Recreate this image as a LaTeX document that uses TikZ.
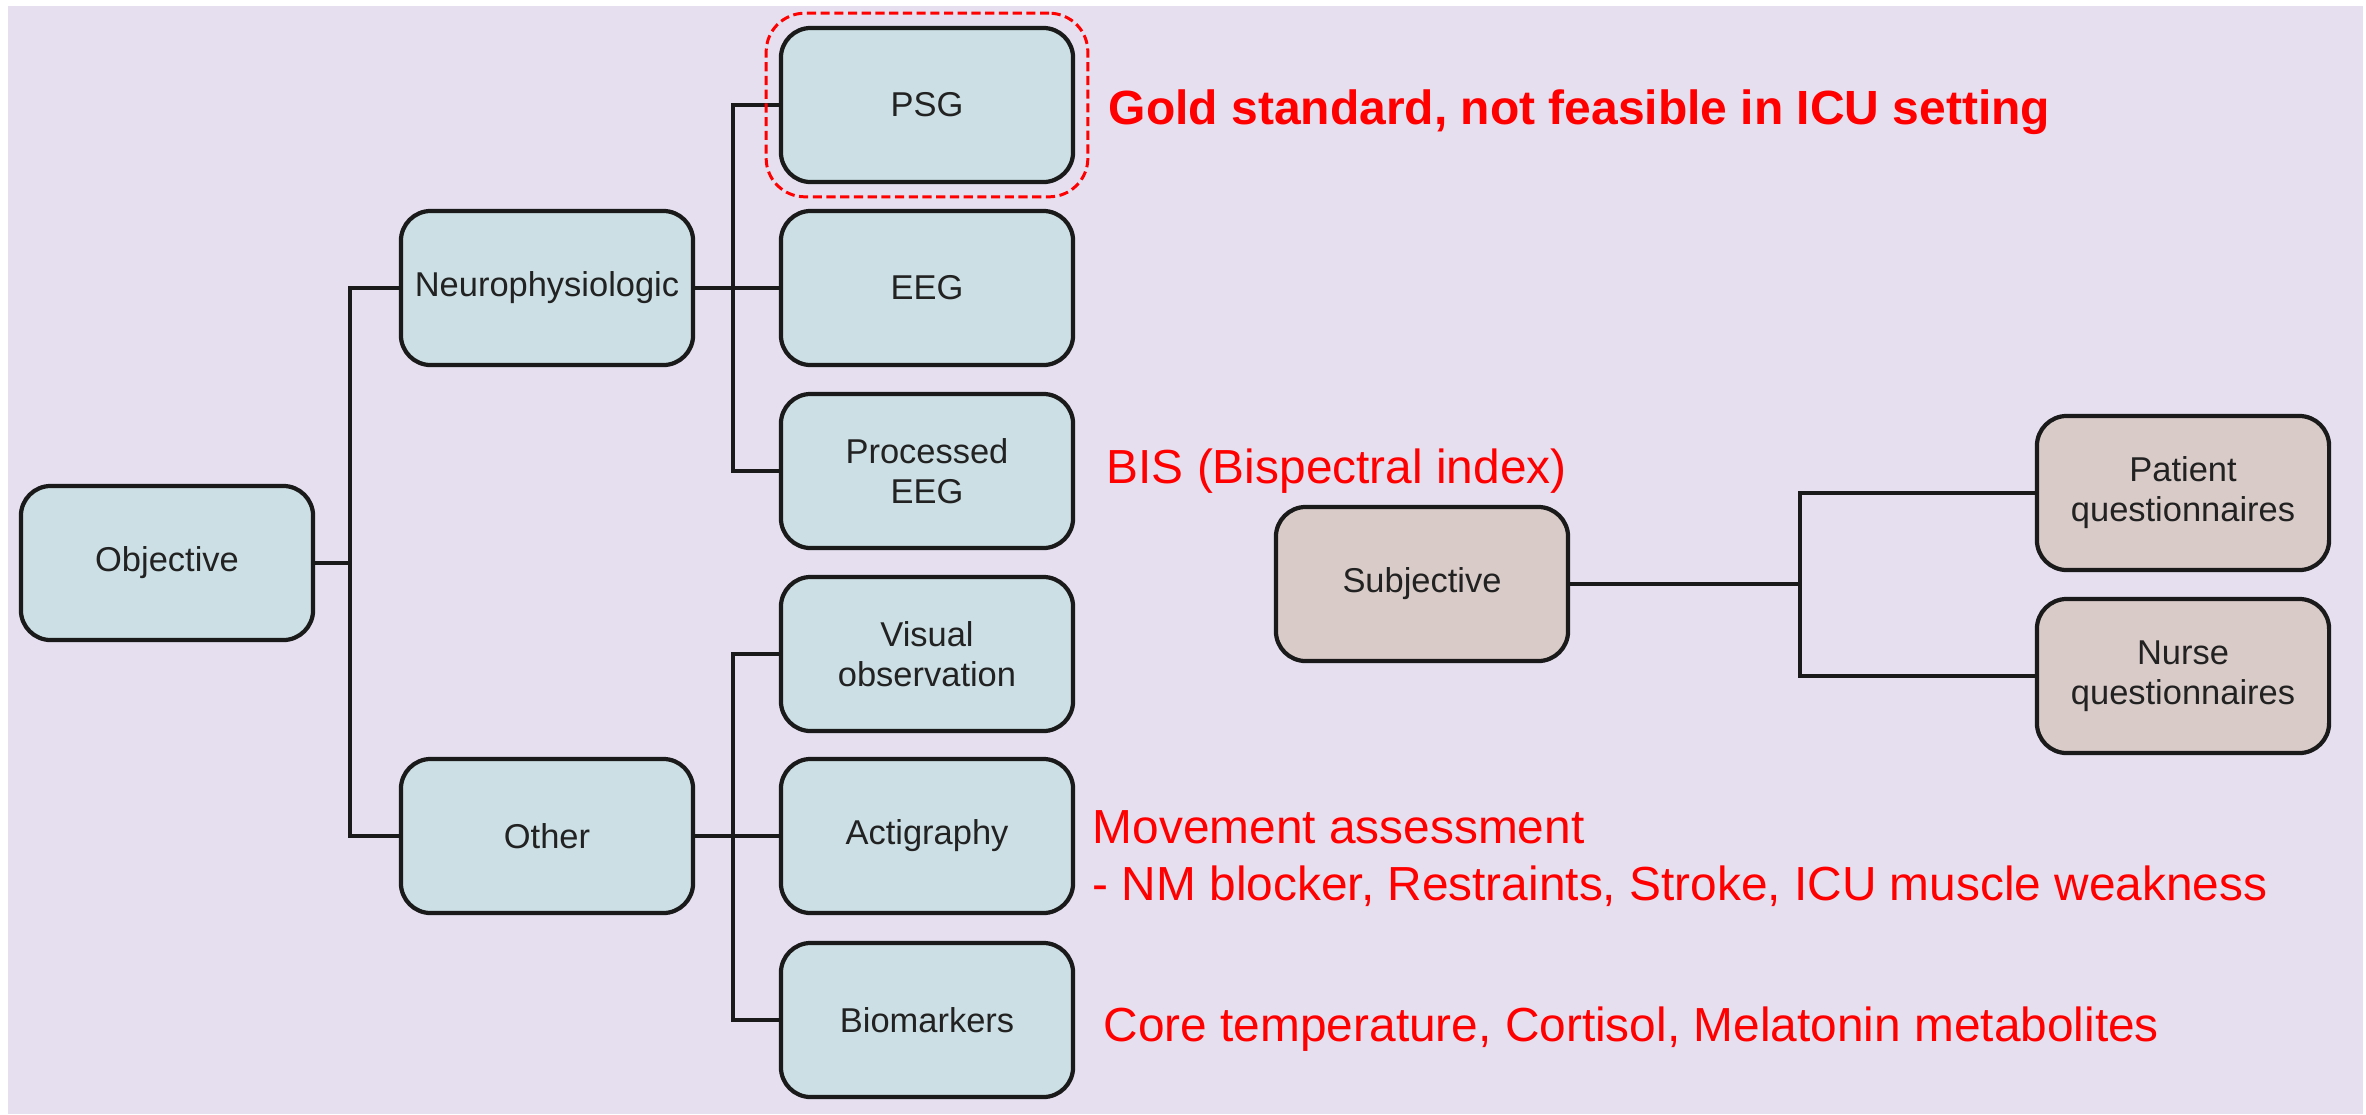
\documentclass[tikz,border=0pt]{standalone}
\usepackage{fontspec}
\setmainfont{Liberation Sans}
\usetikzlibrary{fit}
\definecolor{bgpurple}{RGB}{229,223,239}
\definecolor{objfill}{RGB}{203,223,228}
\definecolor{subjfill}{RGB}{217,203,200}
\definecolor{edgegray}{RGB}{26,26,26}
\definecolor{txtgray}{RGB}{34,34,34}
\tikzset{
  box/.style={draw=edgegray, line width=1.2pt, rounded corners=8.5pt,
    minimum width=2.92cm, minimum height=1.54cm, align=center,
    font=\fontsize{9.8}{11.4}\selectfont, text=txtgray, inner sep=2pt},
  objbox/.style={box, fill=objfill},
  subjbox/.style={box, fill=subjfill},
  link/.style={draw=edgegray, line width=1.2pt},
  note/.style={text=red, anchor=base west, inner sep=0pt,
    font=\fontsize{13.6}{16}\selectfont},
  boldnote/.style={note, font=\fontsize{13.65}{16}\selectfont\bfseries},
  highlight/.style={draw=red, line width=0.85pt, dash pattern=on 2.6pt off 1.3pt,
    rounded corners=11pt, inner sep=3.6pt}
}
\begin{document}
\begin{tikzpicture}[x=0.01cm, y=-0.01cm]
  \useasboundingbox (0,0) rectangle (2366,1114);
  \fill[bgpurple] (8,6) rectangle (2363,1114);

  % objective branch
  \node[objbox] (obj)   at (167,563)  {Objective};
  \node[objbox] (neuro) at (547,288)  {Neurophysiologic};
  \node[objbox] (other) at (547,836)  {Other};
  \node[objbox] (psg)   at (927,105)  {PSG};
  \node[objbox] (eeg)   at (927,288)  {EEG};
  \node[objbox] (peeg)  at (927,471)  {Processed\\EEG};
  \node[objbox] (vis)   at (927,654)  {Visual\\observation};
  \node[objbox] (act)   at (927,836)  {Actigraphy};
  \node[objbox] (bio)   at (927,1020) {Biomarkers};

  % subjective branch
  \node[subjbox] (subj) at (1422,584) {Subjective};
  \node[subjbox] (pat)  at (2183,493) {Patient\\questionnaires};
  \node[subjbox] (nur)  at (2183,676) {Nurse\\questionnaires};

  % junction points of the tree
  \coordinate (j1) at (350,563);
  \coordinate (j2) at (733,288);
  \coordinate (j3) at (733,836);
  \coordinate (j4) at (1800,584);

  \draw[link] (obj.east) -- (j1);
  \draw[link] (neuro.west) -| (j1) |- (other.west);
  \draw[link] (neuro.east) -- (eeg.west);
  \draw[link] (psg.west) -| (j2) |- (peeg.west);
  \draw[link] (other.east) -- (act.west);
  \draw[link] (vis.west) -| (j3) |- (bio.west);
  \draw[link] (subj.east) -- (j4);
  \draw[link] (pat.west) -| (j4) |- (nur.west);

  % highlight around PSG
  \node[highlight, fit=(psg)] (psgmark) {};

  % annotations
  \node[boldnote] (gold) at (1108,124) {Gold standard, not feasible in ICU setting};
  \node[note] (bis) at (1106,483) {BIS (Bispectral index)};
  \node[note] (move1) at (1092,843) {Movement assessment};
  \node[note] (move2) at (1092,900) {- NM blocker, Restraints, Stroke, ICU muscle weakness};
  \node[note] (core) at (1103,1041) {Core temperature, Cortisol, Melatonin metabolites};
\end{tikzpicture}
\end{document}
